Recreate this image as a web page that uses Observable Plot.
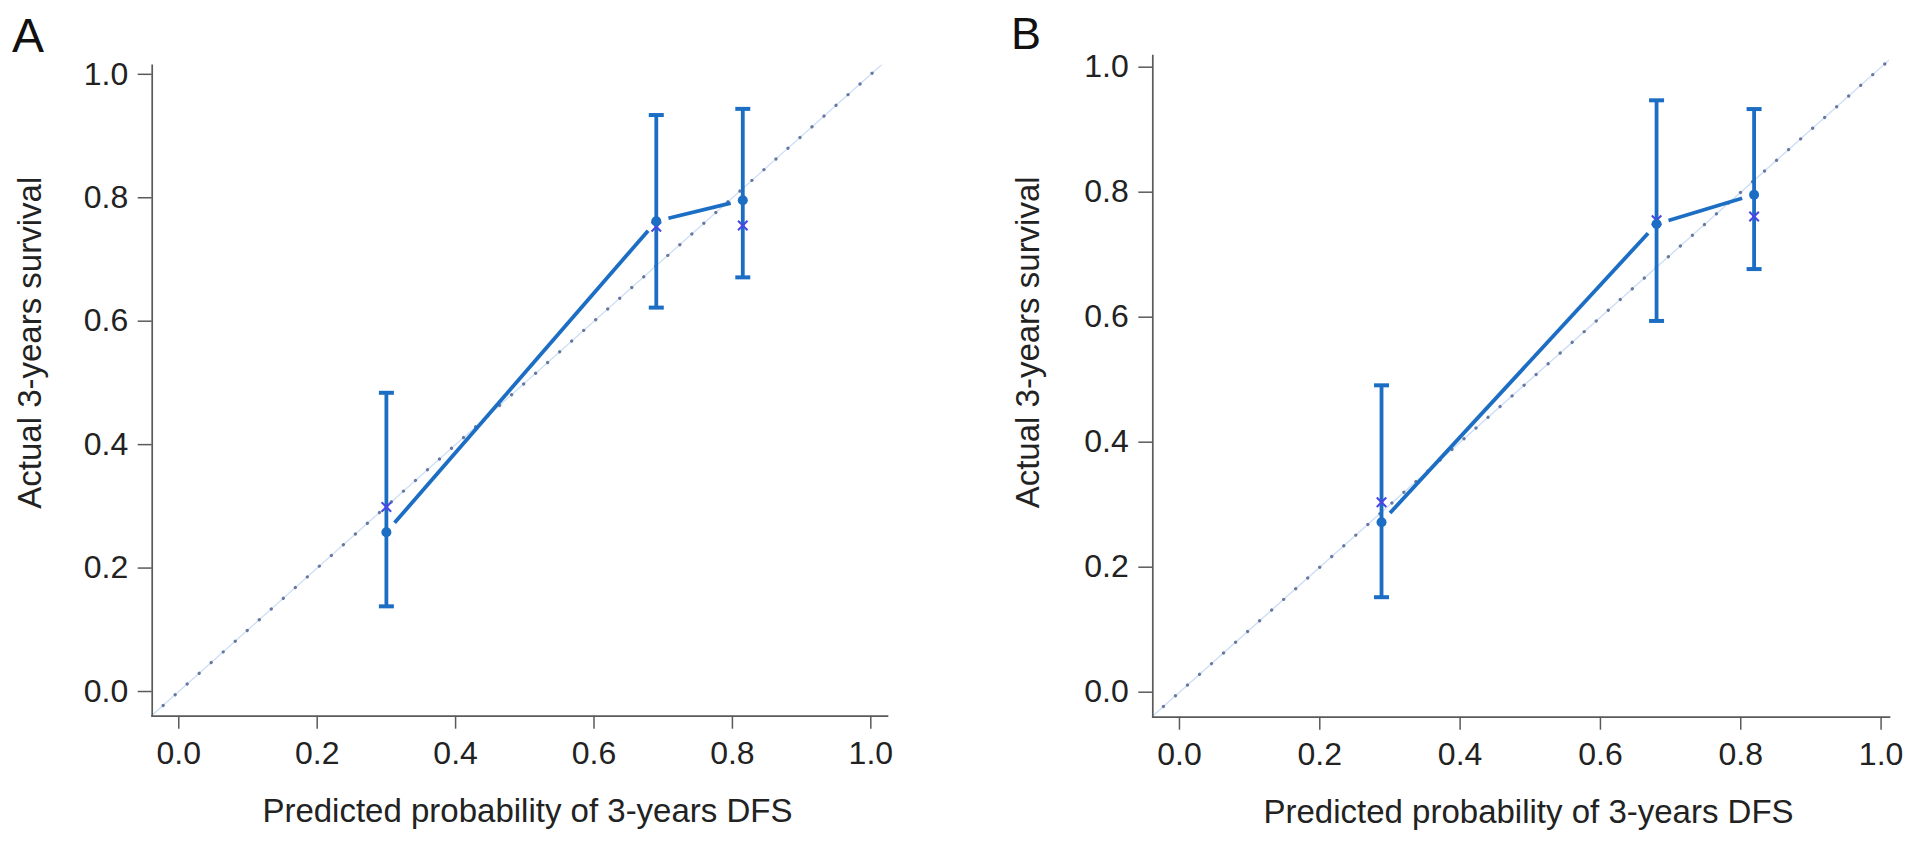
<!DOCTYPE html>
<html>
<head>
<meta charset="utf-8">
<script src="https://cdn.jsdelivr.net/npm/d3@7"></script>
<script src="https://cdn.jsdelivr.net/npm/@observablehq/plot@0.6"></script>
<style>
  html, body { margin: 0; padding: 0; background: #fff; }
  #root { position: relative; width: 1913px; height: 844px; overflow: hidden; background: #fff; }
  .pane { position: absolute; top: 0; }
  .tag { position: absolute; font-family: "Liberation Sans", Arial, sans-serif; color: #111; line-height: 1; z-index: 2; }
</style>
</head>
<body>
<div id="root">
  <div class="pane" id="paneA" style="left:0px;"></div>
  <div class="pane" id="paneB" style="left:960px;"></div>
  <div class="tag" id="tagA" style="left:12px; top:12px; font-size:48px;">A</div>
  <div class="tag" id="tagB" style="left:1011px; top:11px; font-size:45px;">B</div>
</div>
<script>
// ---- data ----
const xLabel = "Predicted probability of 3-years DFS";
const yLabel = "Actual 3-years survival";
const xTicks = [0.0, 0.2, 0.4, 0.6, 0.8, 1.0];
const yTicks = [0.0, 0.2, 0.4, 0.6, 0.8, 1.0];
const ideal = [-0.04, 1.04];            // ideal y = x reference line

// Panel A
const predA = [0.300, 0.690, 0.815];
const obsA  = [0.258, 0.762, 0.796];
const loA   = [0.138, 0.622, 0.671];
const hiA   = [0.484, 0.934, 0.944];
const corA  = [0.299, 0.753, 0.755];    // bias-corrected (x markers)

// Panel B
const predB = [0.288, 0.680, 0.819];
const obsB  = [0.272, 0.749, 0.796];
const loB   = [0.152, 0.594, 0.677];
const hiB   = [0.491, 0.947, 0.933];
const corB  = [0.304, 0.755, 0.761];

// ---- styling ----
const BLUE = "#1c6ec4";
const XMARK = "#4a46e4";
const AXIS = "#5a5a5a";
const FONT = "'Liberation Sans', Arial, Helvetica, sans-serif";
const fmt = d3.format(".1f");

function panel(cfg) {
  const {pred, obs, lo, hi, cor} = cfg;
  const rows = pred.map((p, i) => ({p, o: obs[i], lo: lo[i], hi: hi[i], c: cor[i]}));
  const H = 844;
  const kx = (cfg.width - cfg.ml - cfg.mr) / (cfg.xd[1] - cfg.xd[0]);
  const ky = (H - cfg.mt - cfg.mb) / (cfg.yd[1] - cfg.yd[0]);
  const gap = 12.5, capHalf = 7.5;
  // connecting segments, trimmed near points (R type "b")
  const segs = [];
  for (let i = 0; i < rows.length - 1; i++) {
    const a = rows[i], b = rows[i + 1];
    const len = Math.hypot((b.p - a.p) * kx, (b.o - a.o) * ky);
    const t = gap / len;
    segs.push({
      x1: a.p + t * (b.p - a.p), y1: a.o + t * (b.o - a.o),
      x2: b.p - t * (b.p - a.p), y2: b.o - t * (b.o - a.o)
    });
  }
  const caps = rows.flatMap(r => [
    {x1: r.p - capHalf / kx, x2: r.p + capHalf / kx, y: r.lo},
    {x1: r.p - capHalf / kx, x2: r.p + capHalf / kx, y: r.hi}
  ]);
  const diag = ideal.map(v => ({v}));
  return Plot.plot({
    width: cfg.width,
    height: H,
    marginLeft: cfg.ml, marginRight: cfg.mr, marginTop: cfg.mt, marginBottom: cfg.mb,
    x: {domain: cfg.xd, nice: false},
    y: {domain: cfg.yd, nice: false},
    style: {fontFamily: FONT, fontSize: "32px", color: "#222", background: "transparent", overflow: "visible"},
    marks: [
      Plot.line(diag, {x: "v", y: "v", stroke: "#cfe0f6", strokeWidth: 1.4, clip: true}),
      Plot.line(diag, {x: "v", y: "v", stroke: "#66789f", strokeWidth: 3.2, strokeDasharray: "0.1 16", strokeLinecap: "round", clip: true}),
      Plot.link(segs, {x1: "x1", y1: "y1", x2: "x2", y2: "y2", stroke: BLUE, strokeWidth: 3.8}),
      Plot.ruleX(rows, {x: "p", y1: "lo", y2: "hi", stroke: BLUE, strokeWidth: 3.8}),
      Plot.link(caps, {x1: "x1", x2: "x2", y1: "y", y2: "y", stroke: BLUE, strokeWidth: 4}),
      Plot.dot(rows, {x: "p", y: "c", symbol: "times", r: 4.4, stroke: XMARK, strokeWidth: 2}),
      Plot.dot(rows, {x: "p", y: "o", r: 5, fill: BLUE, stroke: null}),
      Plot.frame({anchor: "left", stroke: AXIS, strokeWidth: 1.7}),
      Plot.frame({anchor: "bottom", stroke: AXIS, strokeWidth: 1.7}),
      Plot.axisY(yTicks, {tickSize: 14, tickPadding: 10, tickFormat: fmt, fontSize: 32, stroke: AXIS, strokeWidth: 1.5, fill: "#222", label: null}),
      Plot.axisX(xTicks, {tickSize: 13, tickPadding: 12, tickFormat: fmt, fontSize: 32, stroke: AXIS, strokeWidth: 1.5, fill: "#222", label: null}),
      Plot.text([xLabel], {text: d => d, frameAnchor: "bottom", textAnchor: "middle", lineAnchor: "bottom", dx: cfg.xtdx, dy: cfg.xtdy, fontSize: 33, fill: "#222"}),
      Plot.text([yLabel], {text: d => d, frameAnchor: "left", textAnchor: "middle", lineAnchor: "middle", rotate: -90, dx: cfg.ytdx, dy: cfg.ytdy, fontSize: 33, fill: "#222"})
    ]
  });
}

const A = panel({
  pred: predA, obs: obsA, lo: loA, hi: hiA, cor: corA,
  width: 960, ml: 151.7, mr: 73, mt: 64.8, mb: 128.3,
  xd: [-0.0384, 1.0241], yd: [-0.04, 1.0146],
  xtdx: 7.6, xtdy: 106, ytdx: -122, ytdy: -48
});
const B = panel({
  pred: predB, obs: obsB, lo: loB, hi: hiB, cor: corB,
  width: 953, ml: 192.3, mr: 24, mt: 55, mb: 127.3,
  xd: [-0.038, 1.012], yd: [-0.04, 1.0187],
  xtdx: 7.4, xtdy: 106, ytdx: -124.6, ytdy: -44
});
document.getElementById("paneA").appendChild(A);
document.getElementById("paneB").appendChild(B);
</script>
</body>
</html>
